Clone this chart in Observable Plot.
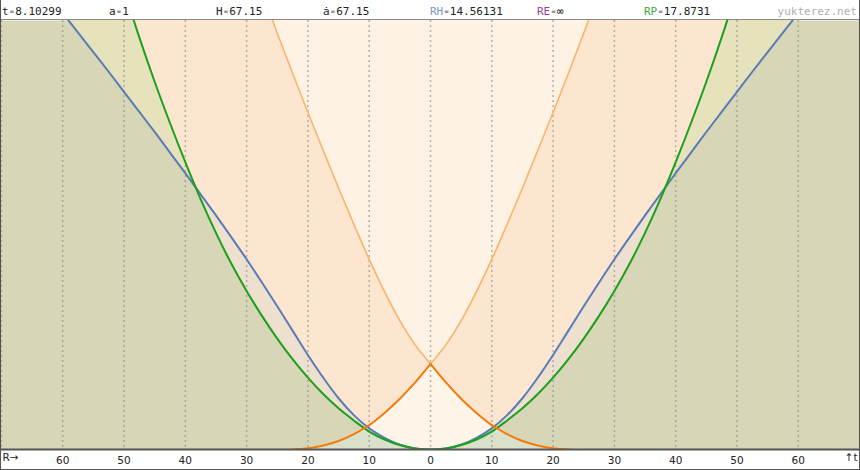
<!DOCTYPE html>
<html><head><meta charset="utf-8">
<script src="https://cdn.jsdelivr.net/npm/d3@7"></script>
<script src="https://cdn.jsdelivr.net/npm/@observablehq/plot@0.6"></script>
<style>
body{margin:0;background:#fff;}
#wrap{position:relative;width:860px;height:470px;overflow:hidden;}
#head{position:absolute;left:0;top:0;width:860px;height:19px;border-bottom:1px solid #8a8a8a;background:#fff;font-family:"DejaVu Sans Mono",monospace;font-size:11px;}
#head span.item{position:absolute;top:5px;line-height:13px;color:#222;white-space:pre;}
#head span.eq{display:inline-block;width:6.62px;text-align:center;font-size:7px;color:#444;vertical-align:1px;}
#chart{position:absolute;left:0;top:20px;}
#border{position:absolute;left:0;top:0;right:0;bottom:0;border:1px solid #555;border-top:none;pointer-events:none;}
</style></head><body>
<div id="wrap">
  <div id="head"></div>
  <div id="chart"></div>
  <div id="border"></div>
</div>
<script>
// ---------- data ----------
const headKeys   = ["t", "a", "H", "ȧ", "RH", "RE", "RP"];
const headValues = ["8.10299", "1", "67.15", "67.15", "14.56131", "∞", "17.8731"];
const siteLabel  = "yukterez.net";

// Hubble sphere (blue), comoving distance R vs time t
const R_hub   = [0,2.5,5,7.5,10,12.5,15,17.5,20,22.5,25,27.5,30,32.5,35,37.5,40,42.5,45,47.5,50,52.5,55,57.5,60];
const hubbleT = [0,0.1,0.45,1.1,2.0,3.25,4.85,6.8,8.95,11.25,13.55,15.8,18.0,20.1,22.15,24.15,26.15,28.1,30.05,31.95,33.85,35.75,37.6,39.45,41.3];

// particle horizon (green)
const R_part    = [0,2.5,5,7.5,10,12.5,15,17.5,20,22.5,25,27.5,30,32.5,35,37.5,40,42.5,45,47.5,50];
const particleT = [0,0.1,0.42,0.95,1.7,2.75,3.9,5.25,6.8,8.55,10.5,12.65,15.0,17.6,20.5,23.7,27.2,30.9,34.8,39.0,43.5];

// past light cone (dark orange)
const R_past    = [0,2.5,5,7.5,10,12.5,15,17.5,20,22.9];
const pastConeT = [8.1,6.35,4.8,3.45,2.3,1.45,0.8,0.38,0.13,0];

// future light cone (light orange)
const R_future    = [0,2.5,5,7.5,10,12.5,15,17.5,20,22.5,25,27.5];
const futureConeT = [8.1,9.9,12.2,14.95,18.0,21.3,24.75,28.3,31.9,35.6,39.4,43.4];

const tTop   = 40.6;
const xTicks = [-60,-50,-40,-30,-20,-10,0,10,20,30,40,50,60];
const gridR  = [-70,-60,-50,-40,-30,-20,-10,0,10,20,30,40,50,60,70];

// ---------- header ----------
const headKeyColors = ["#222","#222","#222","#222","#7d94c4","#9c3ea3","#3ea83e"];
const head = document.getElementById("head");
headKeys.forEach((k, i) => {
  const s = document.createElement("span");
  s.className = "item";
  s.style.left = (2 + 107 * i) + "px";
  const ks = document.createElement("span"); ks.textContent = k; ks.style.color = headKeyColors[i];
  const eq = document.createElement("span"); eq.className = "eq"; eq.textContent = "=";
  const vs = document.createElement("span"); vs.textContent = headValues[i];
  s.append(ks, eq, vs);
  head.appendChild(s);
});
const site = document.createElement("span");
site.className = "item"; site.style.right = "3px"; site.style.color = "#b0b0b0";
site.textContent = siteLabel;
head.appendChild(site);

// ---------- helpers ----------
function mirror(Rs, Ts) {
  const out = [];
  for (let i = Rs.length - 1; i > 0; i--) out.push({R: -Rs[i], t: Ts[i]});
  for (let i = 0; i < Rs.length; i++) out.push({R: Rs[i], t: Ts[i]});
  return out;
}
function halves(Rs, Ts) {
  const out = [];
  for (let i = Rs.length - 1; i >= 0; i--) out.push({R: -Rs[i], t: Ts[i], side: "L"});
  for (let i = 0; i < Rs.length; i++) out.push({R: Rs[i], t: Ts[i], side: "R"});
  return out;
}
function interp(Rs, Ts, r) {
  r = Math.abs(r);
  if (r <= Rs[0]) return Ts[0];
  for (let i = 1; i < Rs.length; i++) {
    if (r <= Rs[i]) { const f = (r - Rs[i-1]) / (Rs[i] - Rs[i-1]); return Ts[i-1] + f * (Ts[i] - Ts[i-1]); }
  }
  return Ts[Ts.length - 1];
}

const hub  = mirror(R_hub, hubbleT);
const part = mirror(R_part, particleT);
const past = halves(R_past, pastConeT);
const fut  = halves(R_future, futureConeT);
const both = mirror(R_part, R_part.map((r, i) => Math.max(particleT[i], interp(R_hub, hubbleT, r))));
const pastOut = mirror(R_past, R_past.map((r, i) => Math.min(pastConeT[i], interp(R_part, particleT, r))));

const cv = "catmull-rom";
const chart = Plot.plot({
  width: 860, height: 450,
  marginTop: 0, marginBottom: 21, marginLeft: 0, marginRight: 0,
  x: {domain: [-70.15, 70.15]},
  y: {domain: [0, tTop], axis: null},
  style: {fontFamily: "DejaVu Sans", fontSize: "10.5px", color: "#222", background: "transparent", overflow: "visible"},
  marks: [
    Plot.frame({fill: "#d7d6b7"}),
    Plot.areaY(hub,  {x: "R", y1: "t", y2: tTop + 5, fill: "#e6e3bc", curve: cv, clip: true}),
    Plot.areaY(part, {x: "R", y1: "t", y2: tTop + 5, fill: "#eee0cf", curve: cv, clip: true}),
    Plot.areaY(both, {x: "R", y1: "t", y2: tTop + 5, fill: "#fde6cf", curve: cv, clip: true}),
    Plot.areaY(fut,  {x: "R", y1: "t", y2: tTop + 5, z: "side", fill: "#fef2e5", stroke: "#fef2e5", strokeWidth: 0.6, curve: cv, clip: true}),
    Plot.areaY(past, {x: "R", y1: 0, y2: "t", z: "side", fill: "#fff4e8", stroke: "#fff4e8", strokeWidth: 0.6, curve: cv, clip: true}),
    Plot.areaY(pastOut, {x: "R", y1: 0, y2: "t", fill: "#d9e1ca", curve: cv, clip: true}),
    Plot.ruleX(gridR, {stroke: "#8c8c8c", strokeOpacity: 0.65, strokeDasharray: "2,3", strokeWidth: 1.5}),
    Plot.line(fut,  {x: "R", y: "t", z: "side", stroke: "#fab36c", strokeWidth: 1.6, curve: cv, clip: true}),
    Plot.line(hub,  {x: "R", y: "t", stroke: "#5a7bb5", strokeWidth: 2, curve: cv, clip: true}),
    Plot.line(part, {x: "R", y: "t", stroke: "#1c9f1c", strokeWidth: 2, curve: cv, clip: true}),
    Plot.line(past, {x: "R", y: "t", z: "side", stroke: "#f27b0c", strokeWidth: 2, curve: cv, clip: true}),
    Plot.ruleY([0], {stroke: "#555", strokeWidth: 2}),
    Plot.axisX(xTicks, {tickSize: 0, tickPadding: 7, tickFormat: d => String(Math.abs(d)), label: null}),
    Plot.text(["R→"], {frameAnchor: "bottom-left", text: d => d, dx: 2, dy: 11, textAnchor: "start"}),
    Plot.text(["↑t"], {frameAnchor: "bottom-right", text: d => d, dx: -3, dy: 11, textAnchor: "end"})
  ]
});
document.getElementById("chart").appendChild(chart);
</script>
</body></html>
